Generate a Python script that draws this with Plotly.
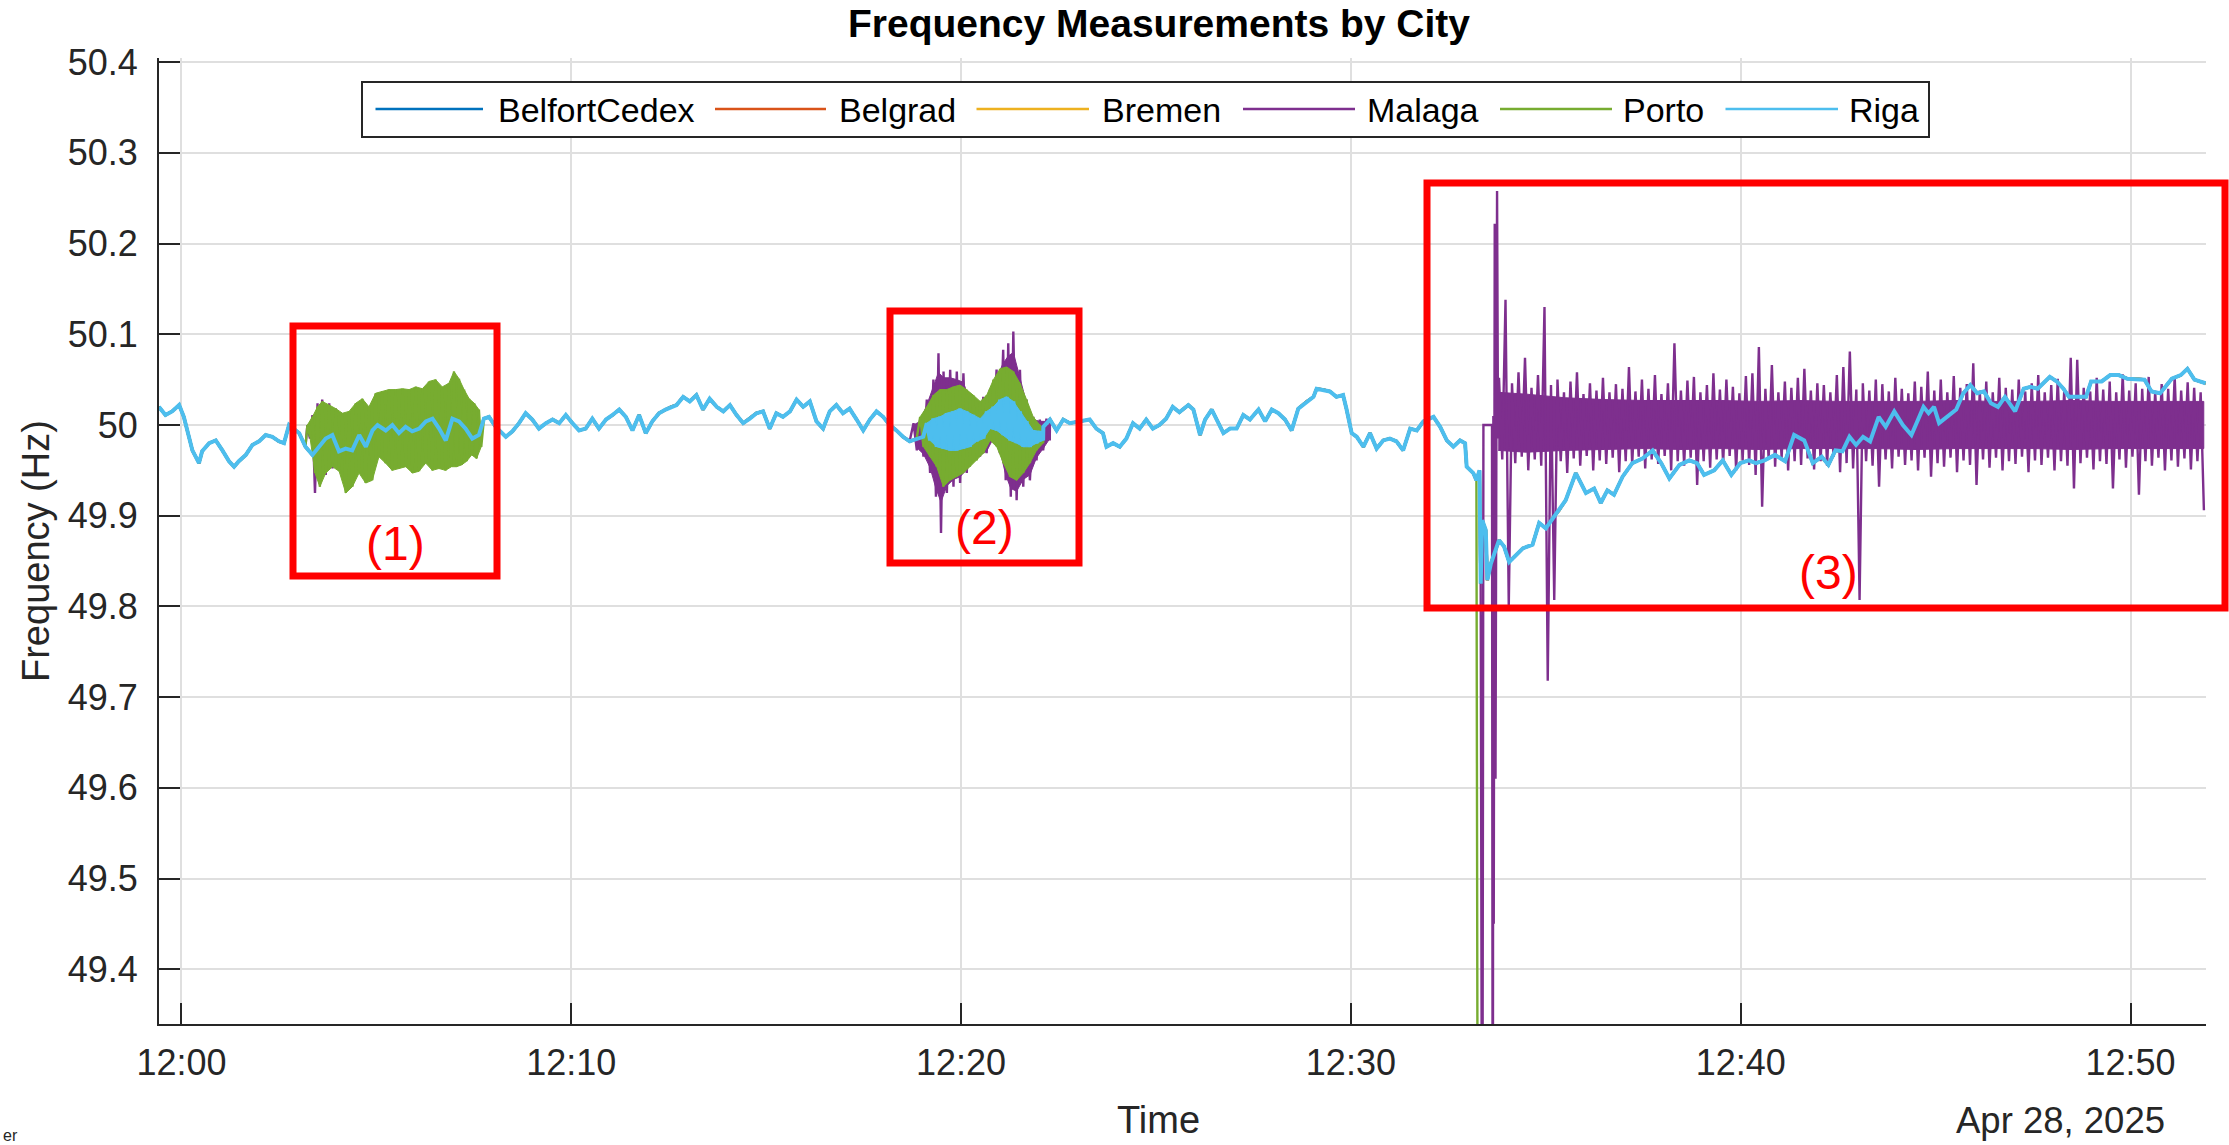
import pandas as pd
import plotly.graph_objects as go

# ---------------- data ----------------
cities = ["BelfortCedex", "Belgrad", "Bremen", "Malaga", "Porto", "Riga"]
colors = ["#0072BD", "#D95319", "#EDB120", "#7E2F8E", "#77AC30", "#4DBEEE"]

# common grid frequency (minutes after 12:00, Hz)
t_min = [-0.58, -0.41, -0.24, -0.06, 0.06, 0.19, 0.28, 0.45, 0.53, 0.71, 0.88, 1.05, 1.22, 1.35, 1.47, 1.65,
         1.82, 1.99, 2.16, 2.33, 2.50, 2.63, 2.76, 3.02, 3.18, 3.36, 3.53, 3.70, 3.87, 4.04, 4.21, 4.38, 4.56,
         4.73, 4.90, 5.03, 5.24, 5.41, 5.58, 5.75, 5.92, 6.10, 6.27, 6.44, 6.61, 6.78, 6.95, 7.12, 7.29, 7.46,
         7.63, 7.76, 7.89, 8.06, 8.32, 8.49, 8.66, 8.83, 9.00, 9.17, 9.35, 9.52, 9.69, 9.86, 10.03, 10.20,
         10.37, 10.54, 10.71, 10.89, 11.06, 11.23, 11.40, 11.57, 11.74, 11.91, 12.08, 12.25, 12.42, 12.56,
         12.70, 12.87, 13.04, 13.21, 13.38, 13.55, 13.73, 13.90, 14.07, 14.24, 14.41, 14.58, 14.75, 14.92,
         15.09, 15.26, 15.43, 15.61, 15.78, 15.95, 16.12, 16.29, 16.46, 16.63, 16.80, 16.97, 17.14, 17.32,
         17.49, 17.66, 17.83, 18.00, 18.17, 18.34, 18.51, 18.68, 18.86, 19.03, 19.20, 19.37, 19.54, 19.71,
         19.88, 20.05, 20.22, 20.39, 20.56, 20.73, 20.91, 21.08, 21.25, 21.42, 21.59, 21.76, 21.93, 22.11,
         22.28, 22.45, 22.62, 22.79, 23.04, 23.30, 23.47, 23.64, 23.73, 23.90, 24.07, 24.24, 24.41, 24.58,
         24.75, 24.92, 25.09, 25.26, 25.43, 25.60, 25.83, 25.96, 26.13, 26.26, 26.43, 26.56, 26.73, 26.90,
         27.07, 27.24, 27.41, 27.63, 27.80, 27.97, 28.14, 28.31, 28.48, 28.65, 28.87, 29.04, 29.12, 29.29,
         29.46, 29.63, 29.80, 29.89, 30.02, 30.15, 30.32, 30.49, 30.66, 30.83, 31.00, 31.17, 31.34, 31.52,
         31.69, 31.86, 32.12, 32.29, 32.46, 32.63, 32.80, 32.93, 32.97, 33.14, 33.22, 33.30, 33.33, 33.37,
         33.46, 33.50, 33.59, 33.80, 33.93, 34.06, 34.24, 34.41, 34.66, 34.83, 35.00, 35.17, 35.34, 35.51,
         35.77, 36.03, 36.24, 36.41, 36.58, 36.75, 36.97, 37.22, 37.48, 37.74, 37.96, 38.17, 38.43, 38.68,
         38.88, 39.06, 39.32, 39.54, 39.76, 39.99, 40.21, 40.39, 40.61, 40.88, 41.14, 41.37, 41.63, 41.85,
         42.08, 42.25, 42.43, 42.61, 42.79, 42.96, 43.14, 43.32, 43.54, 43.72, 43.94, 44.16, 44.38, 44.56,
         44.69, 44.82, 44.96, 45.09, 45.31, 45.53, 45.71, 45.89, 46.07, 46.24, 46.42, 46.60, 46.78, 47.04,
         47.26, 47.44, 47.62, 47.93, 48.11, 48.28, 48.42, 48.64, 48.86, 48.99, 49.26, 49.48, 49.70, 49.92,
         50.14, 50.36, 50.54, 50.76, 50.89, 51.06, 51.29, 51.46, 51.64, 51.81, 51.93]
f_grid = [50.020, 50.011, 50.015, 50.022, 50.009, 49.987, 49.972, 49.958, 49.971, 49.980, 49.983, 49.972,
          49.960, 49.954, 49.960, 49.967, 49.978, 49.982, 49.989, 49.987, 49.982, 49.980, 50.000, 49.991,
          49.976, 49.967, 49.976, 49.985, 49.989, 49.971, 49.974, 49.972, 49.989, 49.976, 49.994, 50.000,
          49.994, 50.000, 49.991, 49.998, 49.993, 49.996, 50.004, 50.007, 49.996, 49.983, 50.007, 50.004,
          49.996, 49.985, 49.989, 50.007, 50.009, 49.998, 49.987, 49.993, 50.002, 50.013, 50.006, 49.996,
          50.002, 50.006, 50.002, 50.011, 50.002, 49.994, 49.996, 50.007, 49.996, 50.006, 50.011, 50.017,
          50.009, 49.994, 50.011, 49.991, 50.004, 50.013, 50.017, 50.020, 50.022, 50.031, 50.026, 50.033,
          50.017, 50.029, 50.020, 50.015, 50.022, 50.011, 50.002, 50.007, 50.013, 50.015, 49.996, 50.013,
          50.009, 50.015, 50.028, 50.020, 50.026, 50.004, 49.996, 50.015, 50.022, 50.013, 50.018, 50.006,
          49.994, 50.006, 50.015, 50.009, 50.000, 49.994, 49.987, 49.982, 49.985, 49.987, 49.991, 49.991,
          49.993, 49.994, 49.996, 49.994, 49.995, 49.996, 49.998, 50.007, 50.006, 50.007, 50.004, 49.996,
          49.993, 49.987, 49.985, 49.998, 50.006, 49.994, 50.006, 50.002, 50.004, 50.006, 49.996, 49.991,
          49.976, 49.980, 49.976, 49.985, 50.002, 49.996, 50.006, 49.996, 50.000, 50.007, 50.020, 50.014,
          50.022, 50.017, 49.989, 50.006, 50.017, 50.006, 49.991, 49.996, 49.996, 50.011, 50.006, 50.017,
          50.004, 50.017, 50.013, 50.006, 49.994, 50.018, 50.026, 50.031, 50.040, 50.039, 50.037, 50.031,
          50.033, 50.017, 49.991, 49.987, 49.976, 49.991, 49.974, 49.983, 49.985, 49.982, 49.972, 49.996,
          49.994, 50.004, 50.009, 49.998, 49.983, 49.976, 49.983, 49.980, 49.954, 49.947, 49.939, 49.950,
          49.825, 49.895, 49.884, 49.829, 49.847, 49.873, 49.866, 49.849, 49.857, 49.864, 49.868, 49.892,
          49.886, 49.897, 49.906, 49.917, 49.947, 49.925, 49.930, 49.914, 49.928, 49.923, 49.943, 49.958,
          49.963, 49.972, 49.958, 49.941, 49.956, 49.961, 49.958, 49.945, 49.950, 49.961, 49.945, 49.958,
          49.961, 49.958, 49.961, 49.967, 49.960, 49.989, 49.983, 49.958, 49.965, 49.956, 49.972, 49.971,
          49.987, 49.978, 49.987, 49.982, 50.009, 49.998, 50.015, 50.000, 49.989, 50.007, 50.020, 50.013,
          50.020, 50.002, 50.009, 50.017, 50.035, 50.044, 50.035, 50.037, 50.024, 50.020, 50.031, 50.015,
          50.040, 50.042, 50.040, 50.053, 50.048, 50.040, 50.031, 50.031, 50.031, 50.048, 50.048, 50.055,
          50.055, 50.051, 50.051, 50.050, 50.037, 50.035, 50.042, 50.051, 50.055, 50.062, 50.050, 50.048,
          50.046]

# oscillation envelopes (time of upper swing, upper value, lower value)
porto_r1_t = [3.23, 3.36, 3.49, 3.61, 3.79, 3.96, 4.13, 4.30, 4.47, 4.64, 4.81, 4.98, 5.15, 5.32, 5.49,
              5.67, 5.84, 6.01, 6.18, 6.35, 6.52, 6.69, 6.86, 6.99, 7.12, 7.25, 7.38, 7.51, 7.63]
porto_r1_hi = [50.000, 50.009, 50.020, 50.026, 50.022, 50.018, 50.013, 50.015, 50.024, 50.029, 50.020,
               50.035, 50.037, 50.039, 50.039, 50.040, 50.039, 50.042, 50.040, 50.048, 50.050, 50.042,
               50.046, 50.059, 50.051, 50.039, 50.029, 50.024, 50.017]
porto_r1_lo = [49.987, 49.947, 49.932, 49.947, 49.954, 49.949, 49.925, 49.932, 49.947, 49.936, 49.939,
               49.965, 49.958, 49.950, 49.952, 49.954, 49.947, 49.949, 49.958, 49.950, 49.952, 49.950,
               49.954, 49.954, 49.956, 49.960, 49.967, 49.963, 49.976]

porto_r2_t = [18.95, 19.12, 19.29, 19.46, 19.63, 19.80, 19.97, 20.14, 20.31, 20.49, 20.66, 20.83, 21.00,
              21.17, 21.34, 21.51, 21.68, 21.85, 22.02]
porto_r2_hi = [50.009, 50.020, 50.033, 50.039, 50.039, 50.042, 50.044, 50.039, 50.033, 50.026, 50.033,
               50.050, 50.062, 50.064, 50.059, 50.046, 50.028, 50.009, 50.000]
porto_r2_lo = [49.976, 49.965, 49.954, 49.932, 49.939, 49.943, 49.947, 49.954, 49.961, 49.969, 49.983,
               49.976, 49.958, 49.943, 49.939, 49.947, 49.958, 49.972, 49.980]
porto_end_t = [33.26]
porto_end_f = [49.00]

malaga_r1_t = [3.23, 3.36, 3.49, 3.61, 3.79, 3.96, 4.13]
malaga_r1_hi = [50.000, 50.011, 50.024, 50.028, 50.024, 50.018, 50.010]
malaga_r1_lo = [49.985, 49.925, 49.935, 49.945, 49.952, 49.950, 49.960]

malaga_r2_t = [18.78, 18.95, 19.12, 19.29, 19.42, 19.55, 19.72, 19.89, 20.06, 20.23, 20.40, 20.57, 20.74,
               20.91, 21.08, 21.21, 21.34, 21.51, 21.68, 21.85, 22.02, 22.19]
malaga_r2_hi = [50.002, 50.006, 50.028, 50.050, 50.079, 50.059, 50.061, 50.059, 50.057, 50.031, 50.026,
                50.031, 50.039, 50.061, 50.083, 50.090, 50.103, 50.061, 50.028, 50.009, 50.006, 50.007]
malaga_r2_lo = [49.972, 49.965, 49.947, 49.921, 49.881, 49.925, 49.932, 49.936, 49.947, 49.961, 49.965,
                49.969, 49.983, 49.969, 49.939, 49.921, 49.917, 49.932, 49.939, 49.961, 49.972, 49.983]
# solid part of the Malaga oscillation in region (2)
malaga_r2_core_hi = [50.000, 50.004, 50.022, 50.042, 50.058, 50.052, 50.052, 50.050, 50.047, 50.026,
                     50.022, 50.026, 50.032, 50.052, 50.068, 50.076, 50.080, 50.052, 50.024, 50.006,
                     50.004, 50.004]
malaga_r2_core_lo = [49.975, 49.968, 49.953, 49.930, 49.915, 49.933, 49.940, 49.943, 49.951, 49.964,
                     49.967, 49.971, 49.985, 49.972, 49.945, 49.930, 49.927, 49.940, 49.945, 49.964,
                     49.974, 49.985]

malaga_evt_t = [33.37, 33.40, 33.62, 33.64, 33.655, 33.665, 33.69, 33.71, 33.75, 33.775]
malaga_evt_f = [49.00, 50.000, 50.000, 49.00, 50.010, 49.450, 50.222, 49.610, 50.258, 49.985]

malaga_r3_start = 33.80   # minutes, samples every 10 s
malaga_r3_hi = [50.052, 50.138, 50.046, 50.058, 50.074, 50.041, 50.055, 50.130, 50.044, 50.050,
                50.036, 50.048, 50.058, 50.034, 50.046, 50.038, 50.052, 50.036, 50.045, 50.040,
                50.064, 50.037, 50.050, 50.040, 50.055, 50.034, 50.046, 50.090, 50.038, 50.049,
                50.053, 50.036, 50.044, 50.057, 50.039, 50.050, 50.042, 50.035, 50.054, 50.057,
                50.086, 50.040, 50.066, 50.036, 50.048, 50.041, 50.052, 50.062, 50.038, 50.046,
                50.044, 50.036, 50.055, 50.064, 50.081, 50.039, 50.046, 50.038, 50.050, 50.045,
                50.037, 50.052, 50.040, 50.035, 50.048, 50.042, 50.059, 50.038, 50.050, 50.036,
                50.054, 50.041, 50.045, 50.068, 50.038, 50.048, 50.036, 50.052, 50.041, 50.039,
                50.050, 50.037, 50.046, 50.055, 50.036, 50.044, 50.051, 50.038, 50.074, 50.072,
                50.041, 50.037, 50.052, 50.039, 50.048, 50.036, 50.056, 50.038, 50.046, 50.040,
                50.053, 50.037, 50.045, 50.040, 50.054, 50.038, 50.047, 50.041, 50.036]
malaga_r3_lo = [49.962, 49.800, 49.958, 49.965, 49.950, 49.962, 49.955, 49.718, 49.807, 49.960,
                49.947, 49.963, 49.955, 49.966, 49.950, 49.961, 49.957, 49.964, 49.948, 49.960,
                49.956, 49.965, 49.952, 49.962, 49.957, 49.966, 49.950, 49.960, 49.955, 49.964,
                49.934, 49.960, 49.953, 49.962, 49.957, 49.966, 49.950, 49.961, 49.956, 49.945,
                49.910, 49.962, 49.954, 49.964, 49.950, 49.960, 49.956, 49.963, 49.951, 49.960,
                49.955, 49.965, 49.948, 49.958, 49.952, 49.807, 49.960, 49.955, 49.932, 49.962,
                49.952, 49.965, 49.956, 49.961, 49.950, 49.964, 49.943, 49.958, 49.954, 49.964,
                49.948, 49.961, 49.956, 49.934, 49.962, 49.953, 49.964, 49.950, 49.960, 49.957,
                49.965, 49.948, 49.961, 49.956, 49.964, 49.950, 49.960, 49.955, 49.930, 49.958,
                49.964, 49.951, 49.960, 49.957, 49.930, 49.962, 49.953, 49.965, 49.923, 49.960,
                49.955, 49.964, 49.950, 49.961, 49.954, 49.963, 49.951, 49.960, 49.906]
# dense core of the Malaga band after the event
malaga_core_t = [33.78, 34.5, 35.5, 36.5, 37.5, 38.5, 39.5, 40.5, 41.5, 42.5, 43.5, 44.5, 45.5, 46.5,
                 47.5, 48.5, 49.5, 50.5, 51.5, 51.88]
malaga_core_hi = [50.036, 50.034, 50.030, 50.028, 50.027, 50.027, 50.027, 50.026, 50.027, 50.026,
                  50.026, 50.026, 50.027, 50.026, 50.026, 50.027, 50.026, 50.026, 50.026, 50.026]
malaga_core_lo = [49.972, 49.970, 49.972, 49.973, 49.974, 49.973, 49.974, 49.973, 49.974, 49.974,
                  49.974, 49.973, 49.974, 49.974, 49.974, 49.973, 49.974, 49.974, 49.974, 49.974]

riga_r2_t = [19.12, 19.29, 19.46, 19.63, 19.80, 19.97, 20.14, 20.31, 20.49, 20.66, 20.83, 21.00, 21.17,
             21.34, 21.51, 21.68, 21.85, 22.02]
riga_r2_hi = [50.002, 50.007, 50.009, 50.013, 50.015, 50.018, 50.015, 50.011, 50.007, 50.015, 50.020,
              50.028, 50.031, 50.026, 50.015, 50.004, 49.994, 49.993]
riga_r2_lo = [49.983, 49.976, 49.974, 49.972, 49.972, 49.974, 49.976, 49.982, 49.985, 49.996, 49.994,
              49.989, 49.983, 49.980, 49.976, 49.976, 49.980, 49.983]

y_ticks = [49.4, 49.5, 49.6, 49.7, 49.8, 49.9, 50.0, 50.1, 50.2, 50.3, 50.4]
y_tick_text = ["49.4", "49.5", "49.6", "49.7", "49.8", "49.9", "50", "50.1", "50.2", "50.3", "50.4"]
box_labels = ["(1)", "(2)", "(3)"]

# ---------------- helpers ----------------
T0 = pd.Timestamp("2025-04-28 12:00:00")


def to_dt(mins):
    return [T0 + pd.Timedelta(seconds=round(float(m) * 60, 3)) for m in mins]


def lo_times(ts):
    out = []
    n = len(ts)
    for i in range(n):
        step = (ts[i + 1] - ts[i]) if i < n - 1 else (ts[i] - ts[i - 1])
        out.append(ts[i] + step / 2)
    return out


def zigzag(ts, hi, lo):
    xs, ys = [], []
    for t, tl, h, l in zip(ts, lo_times(ts), hi, lo):
        xs += [t, tl]
        ys += [h, l]
    return xs, ys


def band(ts, hi, lo, lo_ts=None):
    tl = lo_times(ts) if lo_ts is None else lo_ts
    return list(ts) + list(tl)[::-1], list(hi) + list(lo)[::-1]


def compose(pieces, tail=True):
    xs, ys = [], []
    cursor = -1e9
    for pt, pf in pieces:
        for t, f in zip(t_min, f_grid):
            if cursor < t < pt[0]:
                xs.append(t)
                ys.append(f)
        xs += list(pt)
        ys += list(pf)
        cursor = pt[-1]
    if tail:
        for t, f in zip(t_min, f_grid):
            if t > cursor:
                xs.append(t)
                ys.append(f)
    return xs, ys


r3_t = [malaga_r3_start + k / 6 for k in range(len(malaga_r3_hi))]

series = {
    "BelfortCedex": compose([]),
    "Belgrad": compose([]),
    "Bremen": compose([]),
    "Malaga": compose([zigzag(malaga_r1_t, malaga_r1_hi, malaga_r1_lo),
                       zigzag(malaga_r2_t, malaga_r2_hi, malaga_r2_lo),
                       (malaga_evt_t, malaga_evt_f),
                       zigzag(r3_t, malaga_r3_hi, malaga_r3_lo)], tail=False),
    "Porto": compose([zigzag(porto_r1_t, porto_r1_hi, porto_r1_lo),
                      zigzag(porto_r2_t, porto_r2_hi, porto_r2_lo),
                      (porto_end_t, porto_end_f)], tail=False),
    "Riga": compose([zigzag(riga_r2_t, riga_r2_hi, riga_r2_lo)]),
}
bands = {
    "Malaga": [band(malaga_r2_t, malaga_r2_core_hi, malaga_r2_core_lo),
               band(malaga_core_t, malaga_core_hi, malaga_core_lo, lo_ts=malaga_core_t)],
    "Porto": [band(porto_r1_t, porto_r1_hi, porto_r1_lo), band(porto_r2_t, porto_r2_hi, porto_r2_lo)],
    "Riga": [band(riga_r2_t, riga_r2_hi, riga_r2_lo)],
}
widths = {"BelfortCedex": 3, "Belgrad": 3, "Bremen": 3, "Malaga": 2.4, "Porto": 2.4, "Riga": 4}

fig = go.Figure()
for name, col in zip(cities, colors):
    for bx, by in bands.get(name, []):
        fig.add_trace(go.Scatter(x=to_dt(bx), y=by, mode="lines", fill="toself", fillcolor=col,
                                 line=dict(color=col, width=1), showlegend=False, hoverinfo="skip"))
    xs, ys = series[name]
    fig.add_trace(go.Scatter(x=to_dt(xs), y=ys, mode="lines", name=name,
                             line=dict(color=col, width=widths[name]), showlegend=False))

# ---------------- layout ----------------
W, H = 2229, 1145
L, R, TOP, BOT = 159, 2206, 58, 1024
PW, PH = R - L, BOT - TOP


def px(x):
    return (x - L) / PW


def py(y):
    return (BOT - y) / PH


FONT = "Liberation Sans, Arial, Helvetica, sans-serif"
AX = "#262626"

fig.update_layout(
    width=W, height=H,
    margin=dict(l=L, r=W - R, t=TOP, b=H - BOT, pad=0),
    paper_bgcolor="white", plot_bgcolor="white",
    showlegend=False,
    font=dict(family=FONT, color=AX, size=35),
)
fig.update_xaxes(
    type="date",
    range=[T0 - pd.Timedelta(seconds=34.6), T0 + pd.Timedelta(minutes=51.937)],
    tickformat="%H:%M", dtick=600000, tick0=T0,
    ticks="inside", ticklen=21, tickwidth=2, tickcolor=AX,
    showline=True, linecolor=AX, linewidth=2,
    showgrid=True, gridcolor="#dfdfdf", gridwidth=2, zeroline=False,
    tickfont=dict(size=36, color=AX, family=FONT), ticklabelstandoff=6,
)
fig.update_yaxes(
    range=[49.3396, 50.4046],
    tickvals=y_ticks, ticktext=y_tick_text,
    ticks="inside", ticklen=21, tickwidth=2, tickcolor=AX,
    showline=True, linecolor=AX, linewidth=2,
    showgrid=True, gridcolor="#dfdfdf", gridwidth=2, zeroline=False,
    tickfont=dict(size=36, color=AX, family=FONT), ticklabelstandoff=12,
)

ann = []
ann.append(dict(text="<b>Frequency Measurements by City</b>", x=px(1158.6), y=py(24),
                xref="paper", yref="paper", xanchor="center", yanchor="middle", showarrow=False,
                font=dict(size=39, color="#000000", family=FONT)))
ann.append(dict(text="Frequency (Hz)", x=px(36), y=py(551), xref="paper", yref="paper",
                xanchor="center", yanchor="middle", textangle=-90, showarrow=False,
                font=dict(size=38, color=AX, family=FONT)))
ann.append(dict(text="Time", x=px(1158.6), y=py(1120), xref="paper", yref="paper",
                xanchor="center", yanchor="middle", showarrow=False,
                font=dict(size=38, color=AX, family=FONT)))
ann.append(dict(text="Apr 28, 2025", x=px(2167), y=py(1120), xref="paper", yref="paper",
                xanchor="right", yanchor="middle", showarrow=False,
                font=dict(size=36.5, color=AX, family=FONT)))
ann.append(dict(text="er", x=px(1), y=py(1146), xref="paper", yref="paper",
                xanchor="left", yanchor="bottom", showarrow=False,
                font=dict(size=16, color=AX, family=FONT)))

shapes = []
# red highlight boxes
boxes_px = [(293, 326, 497, 576), (890, 311, 1079, 563), (1427, 183, 2225, 608)]
label_px = [(395.5, 543), (984, 527), (1828, 572)]
for (x0, y0, x1, y1), (lx, ly), lab in zip(boxes_px, label_px, box_labels):
    shapes.append(dict(type="rect", xref="paper", yref="paper", x0=px(x0), x1=px(x1), y0=py(y1), y1=py(y0),
                       line=dict(color="#FF0000", width=7), fillcolor="rgba(0,0,0,0)", layer="above"))
    ann.append(dict(text=lab, x=px(lx), y=py(ly), xref="paper", yref="paper", xanchor="center",
                    yanchor="middle", showarrow=False, font=dict(size=48, color="#FF0000", family=FONT)))

# legend (drawn like the original: long line samples in one framed row)
shapes.append(dict(type="rect", xref="paper", yref="paper", x0=px(362), x1=px(1929), y0=py(137), y1=py(82),
                   line=dict(color=AX, width=2), fillcolor="white", layer="above"))
leg_line_px = [(375.5, 483), (715, 826), (976.5, 1089), (1243, 1355), (1500, 1612), (1725.5, 1838)]
leg_text_px = [496, 836.5, 1100, 1365, 1620.5, 1847]
for name, col, (lx0, lx1), tx in zip(cities, colors, leg_line_px, leg_text_px):
    shapes.append(dict(type="line", xref="paper", yref="paper", x0=px(lx0), x1=px(lx1), y0=py(109), y1=py(109),
                       line=dict(color=col, width=2.5), layer="above"))
    ann.append(dict(text=name, x=px(tx), y=py(110), xref="paper", yref="paper", xanchor="left",
                    yanchor="middle", showarrow=False, font=dict(size=34, color="#000000", family=FONT)))

fig.update_layout(shapes=shapes, annotations=ann)
fig.write_html("out.html", include_plotlyjs=True, config={"displayModeBar": False},
               post_script="document.body.style.margin='0px';document.body.style.overflow='hidden';")
